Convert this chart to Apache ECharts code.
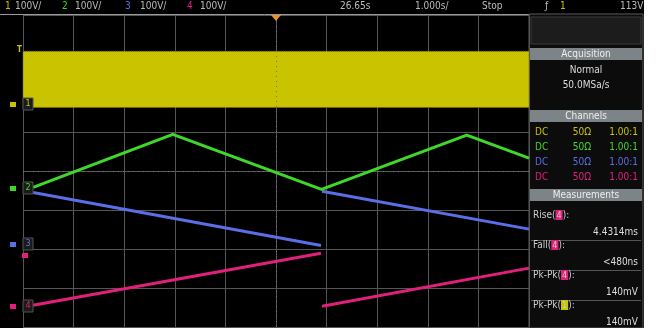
<!DOCTYPE html>
<html>
<head>
<meta charset="utf-8">
<script src="https://cdn.jsdelivr.net/npm/echarts@6/dist/echarts.min.js"></script>
<style>
  html, body { margin: 0; padding: 0; background: #fff; }
  #scope { width: 665px; height: 328px; }
</style>
</head>
<body>
<div id="scope"></div>
<script>
// screen is 10 x 8 divisions, values below are in divisions
const ch1Band = [1.63, 3.07] // low / high edge of the fast square wave
const ch2Time = [0.2, 2.96, 5.9, 8.77, 10]
const ch2Div = [-0.42, 0.94, -0.47, 0.92, 0.33]
const ch3Time = [0.2, 5.89, 5.9, 5.91, 10]
const ch3Div = [-0.55, -1.91, '-', -0.52, -1.49]
const ch4Time = [0.2, 5.89, 5.9, 5.91, 10]
const ch4Div = [-3.44, -2.11, '-', -3.47, -2.49]

const topBar = ['1', '100V/', '2', '100V/', '3', '100V/', '4', '100V/', '26.65s', '1.000s/', 'Stop', '1', '113V']
const chanRows = ['DC', '50Ω', '1.00:1']
const measNames = ['Rise', 'Fall', 'Pk-Pk', 'Pk-Pk']
const measSrc = ['4', '4', '4', '1']
const measVals = ['4.4314ms', '<480ns', '140mV', '140mV']

const C1 = '#c9c300'
const C2 = '#3fd82a'
const C3 = '#5a6ee6'
const C4 = '#e0207a'
const chanColors = [C1, C2, C3, C4]
const FONT = '"Liberation Sans Narrow", "DejaVu Sans Condensed", "Liberation Sans", sans-serif'

function pairs (xs, ys) {
  return xs.map((x, i) => [x, ys[i]])
}

let chart = echarts.init(document.getElementById('scope'))

let g = []
// white strip with figure number
g.push({ type: 'rect', shape: { x: 644, y: 0, width: 21, height: 328 }, style: { fill: '#fff' }, z: 1 })
g.push({ type: 'text', x: 656, y: 289, rotation: Math.PI / 2,
  style: { text: '11121-061', fill: '#111', font: '10px "Liberation Sans", sans-serif', align: 'center', verticalAlign: 'middle' } })

// top status bar
let barX = [5, 15, 62, 75, 125, 140, 187, 200, 340, 415, 482, 560, 620]
let barCol = [C1, '#bbb', C2, '#bbb', C3, '#bbb', C4, '#bbb', '#bbb', '#bbb', '#bbb', C1, '#bbb']
topBar.forEach((t, i) => {
  g.push({ type: 'text', x: barX[i], y: 6, style: { text: t, fill: barCol[i], font: '10px ' + FONT, verticalAlign: 'middle' } })
})
g.push({ type: 'text', x: 545, y: 6, style: { text: 'ƒ', fill: '#bbb', font: '10px ' + FONT, verticalAlign: 'middle' } })
g.push({ type: 'line', shape: { x1: 0, y1: 14.5, x2: 529, y2: 14.5 }, style: { stroke: '#9a9a9a', lineWidth: 1 } })
// trigger position marker
g.push({ type: 'polygon', shape: { points: [[271, 15], [281, 15], [276, 21]] }, style: { fill: '#e8902a' }, z: 100 })

// left channel markers
g.push({ type: 'text', x: 17, y: 46, style: { text: 'T', fill: C1, font: 'bold 8px ' + FONT }, z: 100 })
let markY = [104, 188, 244, 306]
markY.forEach((y, i) => {
  g.push({ type: 'rect', shape: { x: 10, y: y - 2, width: 6, height: 5 }, style: { fill: chanColors[i] }, z: 100 })
  g.push({ type: 'rect', shape: { x: 23, y: y - 6, width: 10, height: 12 }, style: { fill: '#1a1a1a', stroke: '#555', lineWidth: 1 }, z: 100 })
  g.push({ type: 'text', x: 28, y: y, style: { text: String(i + 1), fill: chanColors[i], font: '9px ' + FONT, align: 'center', verticalAlign: 'middle' }, z: 101 })
})
g.push({ type: 'rect', shape: { x: 22, y: 253, width: 6, height: 5 }, style: { fill: C4 }, z: 100 })

// right side panel
g.push({ type: 'rect', shape: { x: 529, y: 14, width: 114, height: 314 }, style: { fill: '#0c0c0c', stroke: '#5a5a5a', lineWidth: 1 } })
g.push({ type: 'rect', shape: { x: 531, y: 17, width: 110, height: 27 }, style: { fill: '#1c1c1c', stroke: '#3a3a3a', lineWidth: 1 } })
function header (y, text) {
  g.push({ type: 'rect', shape: { x: 530, y: y, width: 112, height: 12 }, style: { fill: '#7c8488' } })
  g.push({ type: 'text', x: 586, y: y + 6, style: { text: text, fill: '#eee', font: '10px ' + FONT, align: 'center', verticalAlign: 'middle' } })
}
header(48, 'Acquisition')
g.push({ type: 'text', x: 586, y: 70, style: { text: 'Normal', fill: '#ddd', font: '10px ' + FONT, align: 'center', verticalAlign: 'middle' } })
g.push({ type: 'text', x: 586, y: 85, style: { text: '50.0MSa/s', fill: '#ddd', font: '10px ' + FONT, align: 'center', verticalAlign: 'middle' } })
header(110, 'Channels')
chanColors.forEach((c, i) => {
  let y = 132 + i * 15
  g.push({ type: 'text', x: 535, y: y, style: { text: chanRows[0], fill: c, font: '10px ' + FONT, verticalAlign: 'middle' } })
  g.push({ type: 'text', x: 582, y: y, style: { text: chanRows[1], fill: c, font: '10px ' + FONT, align: 'center', verticalAlign: 'middle' } })
  g.push({ type: 'text', x: 638, y: y, style: { text: chanRows[2], fill: c, font: '10px ' + FONT, align: 'right', verticalAlign: 'middle' } })
})
header(189, 'Measurements')
measNames.forEach((n, i) => {
  let y = 215 + i * 30
  let sc = chanColors[Number(measSrc[i]) - 1]
  g.push({ type: 'text', x: 533, y: y,
    style: {
      text: n + '({s|' + measSrc[i] + '}):',
      fill: '#ccc', font: '10px ' + FONT, verticalAlign: 'middle',
      rich: { s: { backgroundColor: sc, color: '#fff', fontSize: 9, fontFamily: FONT, padding: [1, 1, 0, 1] } }
    } })
  g.push({ type: 'text', x: 638, y: y + 17, style: { text: measVals[i], fill: '#ddd', font: '10px ' + FONT, align: 'right', verticalAlign: 'middle' } })
  if (i < 3) {
    g.push({ type: 'line', shape: { x1: 531, y1: y + 25.5, x2: 641, y2: y + 25.5 }, style: { stroke: '#555', lineWidth: 1 } })
  }
})

chart.setOption({
  backgroundColor: '#000',
  animation: false,
  grid: { left: 23, top: 15, width: 506, height: 312 },
  xAxis: {
    type: 'value', min: 0, max: 10, interval: 1,
    axisLine: { show: false }, axisTick: { show: false }, axisLabel: { show: false },
    splitLine: { show: true, lineStyle: { color: '#555', width: 1 } }
  },
  yAxis: {
    type: 'value', min: -4, max: 4, interval: 1,
    axisLine: { show: false }, axisTick: { show: false }, axisLabel: { show: false },
    splitLine: { show: true, lineStyle: { color: '#555', width: 1 } }
  },
  series: [
    {
      name: 'ch1', type: 'line', data: [], silent: true,
      markArea: {
        silent: true,
        itemStyle: { color: C1, borderColor: '#7a6a10', borderWidth: 1, borderType: 'dotted' },
        data: [[{ xAxis: 0, yAxis: ch1Band[1] }, { xAxis: 10, yAxis: ch1Band[0] }]]
      },
      markLine: {
        silent: true, symbol: 'none', label: { show: false },
        lineStyle: { color: '#777', type: [1, 4], width: 1 },
        data: [{ xAxis: 5 }, { yAxis: 0 }]
      }
    },
    { name: 'ch2', type: 'line', data: pairs(ch2Time, ch2Div), showSymbol: false, lineStyle: { color: C2, width: 3 }, z: 5 },
    { name: 'ch3', type: 'line', data: pairs(ch3Time, ch3Div), showSymbol: false, connectNulls: false, lineStyle: { color: C3, width: 3 }, z: 4 },
    { name: 'ch4', type: 'line', data: pairs(ch4Time, ch4Div), showSymbol: false, connectNulls: false, lineStyle: { color: C4, width: 3 }, z: 4 }
  ],
  graphic: g
})
</script>
</body>
</html>
